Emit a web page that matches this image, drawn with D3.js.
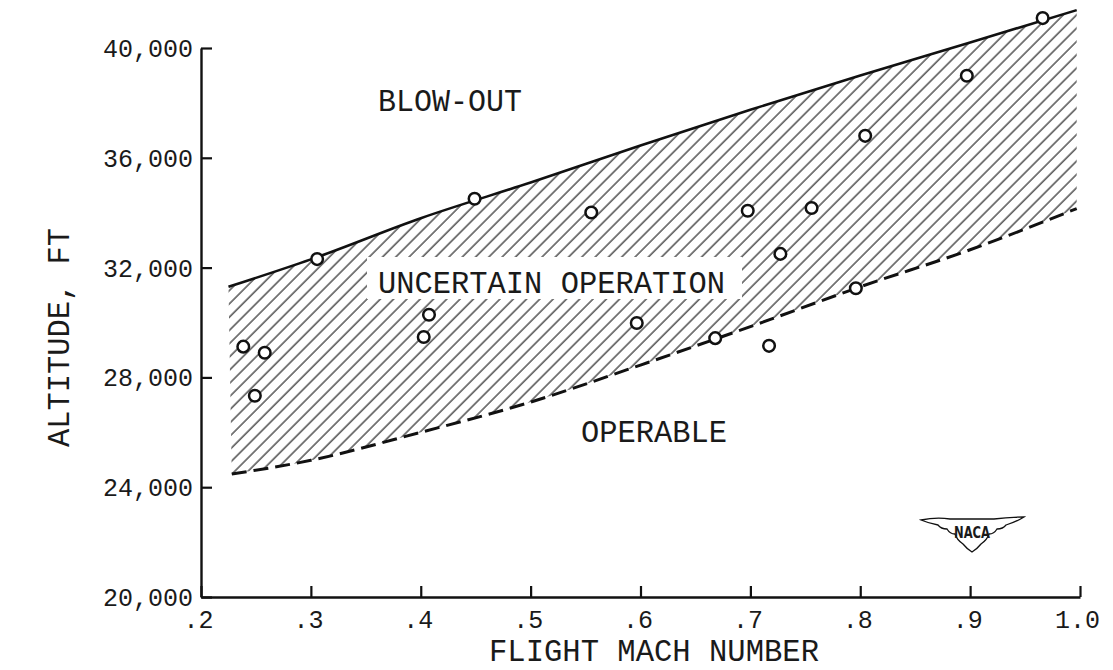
<!DOCTYPE html>
<html>
<head>
<meta charset="utf-8">
<script src="https://cdn.jsdelivr.net/npm/d3@7"></script>
<style>
  html, body { margin: 0; padding: 0; background: #fff; }
  svg { display: block; }
  text { font-family: "Liberation Mono", "Courier New", "DejaVu Sans Mono", monospace; fill: #1a1a1a; }
</style>
</head>
<body>
<svg id="chart" width="1113" height="670"></svg>
<script>
// ---- data ----
const machPoints = [0.2385, 0.249, 0.258, 0.3057, 0.4027, 0.4075, 0.449, 0.5552, 0.5966, 0.668, 0.6976, 0.717, 0.7273, 0.7557, 0.796, 0.8045, 0.897, 0.966];
const altPoints  = [29120, 27330, 28900, 32310, 29470, 30280, 34510, 34010, 29980, 29430, 34070, 29150, 32500, 34170, 31250, 36800, 38990, 41090];

const blowoutMach = [0.225, 0.3, 0.4, 0.5, 0.6, 0.7, 0.8, 0.9, 0.997];
const blowoutAlt  = [31300, 32300, 33800, 35100, 36450, 37750, 39000, 40200, 41380];

const operableMach = [0.228, 0.3, 0.4, 0.5, 0.6, 0.7, 0.8, 0.9, 0.997];
const operableAlt  = [24480, 24980, 26000, 27100, 28450, 29850, 31300, 32650, 34150];

const xTicks = [0.2, 0.3, 0.4, 0.5, 0.6, 0.7, 0.8, 0.9, 1.0];
const xTickLabels = [".2", ".3", ".4", ".5", ".6", ".7", ".8", ".9", "1.0"];
const yTicks = [20000, 24000, 28000, 32000, 36000, 40000];
const yTickLabels = ["20,000", "24,000", "28,000", "32,000", "36,000", "40,000"];

const xTitle = "FLIGHT MACH NUMBER";
const yTitle = "ALTITUDE, FT";
const regionLabels = ["BLOW-OUT", "UNCERTAIN OPERATION", "OPERABLE"];

// ---- layout ----
const svg = d3.select("#chart");
const x = d3.scaleLinear().domain([0.2, 1.0]).range([201, 1080]);
const y = d3.scaleLinear().domain([20000, 40000]).range([597, 48]);

// hatch pattern
const defs = svg.append("defs");
const pat = defs.append("pattern")
  .attr("id", "hatch")
  .attr("patternUnits", "userSpaceOnUse")
  .attr("width", 9.4).attr("height", 10)
  .attr("patternTransform", "rotate(45)");
pat.append("line").attr("x1", 1).attr("y1", 0).attr("x2", 1).attr("y2", 10)
  .attr("stroke", "#111").attr("stroke-width", 1.1);

const upper = blowoutMach.map((m, i) => [m, blowoutAlt[i]]);
const lower = operableMach.map((m, i) => [m, operableAlt[i]]);

const curve = d3.curveMonotoneX;
const lineGen = d3.line().x(d => x(d[0])).y(d => y(d[1])).curve(curve);

function sampler(pts) {
  const p = document.createElementNS("http://www.w3.org/2000/svg", "path");
  p.setAttribute("d", lineGen(pts));
  svg.node().appendChild(p);
  const L = p.getTotalLength();
  const samples = [];
  for (let i = 0; i <= 400; i++) {
    const q = p.getPointAtLength(L * i / 400);
    samples.push([q.x, q.y]);
  }
  p.remove();
  return samples;
}
const su = sampler(upper);
const sl = sampler(lower);
const poly = su.concat(sl.slice().reverse());
svg.append("path")
  .attr("d", "M" + poly.map(p => p[0].toFixed(2) + "," + p[1].toFixed(2)).join("L") + "Z")
  .attr("fill", "url(#hatch)")
  .attr("stroke", "none");

// white box behind middle label
svg.append("rect")
  .attr("x", 367).attr("y", 257).attr("width", 375).attr("height", 42)
  .attr("fill", "#fff");

// upper solid line
svg.append("path").attr("d", lineGen(upper))
  .attr("fill", "none").attr("stroke", "#111").attr("stroke-width", 2.6);
// lower dashed line
svg.append("path").attr("d", lineGen(lower))
  .attr("fill", "none").attr("stroke", "#111").attr("stroke-width", 3)
  .attr("stroke-dasharray", "15,7");

// axes
const xAxis = d3.axisBottom(x).tickValues(xTicks)
  .tickFormat((d, i) => xTickLabels[i])
  .tickSizeInner(-11).tickSizeOuter(0).tickPadding(13);
const yAxis = d3.axisLeft(y).tickValues(yTicks)
  .tickFormat((d, i) => yTickLabels[i])
  .tickSizeInner(-11).tickSizeOuter(0).tickPadding(8);

const gx = svg.append("g").attr("transform", "translate(0,597)").call(xAxis);
const gy = svg.append("g").attr("transform", "translate(201,0)").call(yAxis);
[gx, gy].forEach(g => {
  g.attr("font-size", null);
  g.select(".domain").attr("stroke", "#111").attr("stroke-width", 2.4);
  g.selectAll(".tick line").attr("stroke", "#111").attr("stroke-width", 2.2);
  g.selectAll(".tick text")
    .style("font-family", '"Liberation Mono", "Courier New", monospace')
    .style("font-size", "25px").attr("fill", "#2a2a2a");
});
gx.selectAll(".tick text").attr("dy", "0.71em").attr("dx", -3);
gy.selectAll(".tick text").attr("dy", "0.34em");

// data circles
svg.append("g").selectAll("circle")
  .data(machPoints.map((m, i) => [m, altPoints[i]]))
  .join("circle")
  .attr("cx", d => x(d[0])).attr("cy", d => y(d[1]))
  .attr("r", 5.8)
  .attr("fill", "#fff").attr("stroke", "#111").attr("stroke-width", 2.5);

// region labels
function label(txt, x0, baseline, width, size) {
  svg.append("text").text(txt)
    .attr("x", x0).attr("y", baseline)
    .attr("font-size", size)
    .attr("textLength", width).attr("lengthAdjust", "spacingAndGlyphs");
}
label(regionLabels[0], 378, 111, 144, 31);
label(regionLabels[1], 378, 293, 347, 31);
label(regionLabels[2], 581, 442, 146, 31);

// axis titles
svg.append("text").text(xTitle)
  .attr("x", 489).attr("y", 661).attr("font-size", 31)
  .attr("textLength", 330).attr("lengthAdjust", "spacingAndGlyphs");
svg.append("text").text(yTitle)
  .attr("transform", "translate(69,447) rotate(-90)")
  .attr("font-size", 31)
  .attr("textLength", 219).attr("lengthAdjust", "spacingAndGlyphs");

// NACA emblem
const logo = svg.append("g");
logo.append("path")
  .attr("d", "M921,520 Q936,517 950,519 L994,519 Q1008,517 1024,517 Q1016,522 1006,525 Q1003,529 997,529 Q994,534 989,534 Q987,540 981,544 Q977,549 972,552 Q967,549 963,544 Q957,540 955,534 Q950,534 947,529 Q941,529 938,525 Q928,523 921,520 Z")
  .attr("fill", "#fff").attr("stroke", "#111").attr("stroke-width", 1.3);
logo.append("text").text("NACA")
  .attr("x", 972).attr("y", 538).attr("text-anchor", "middle")
  .style("font-family", '"DejaVu Sans", "Liberation Sans", sans-serif')
  .style("font-size", "15px").attr("font-weight", "bold")
  .attr("textLength", 36).attr("lengthAdjust", "spacingAndGlyphs");
</script>
</body>
</html>
